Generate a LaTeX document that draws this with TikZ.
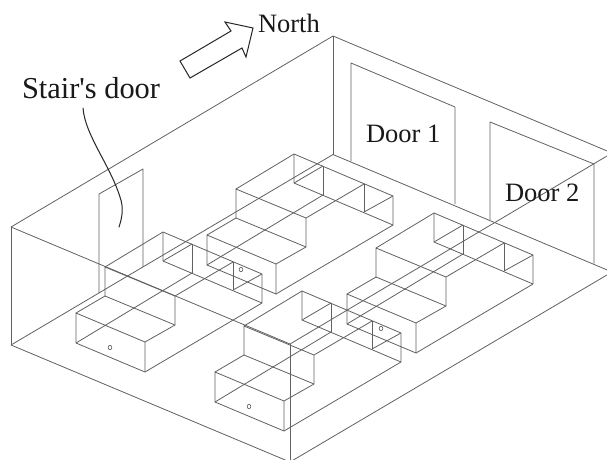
\documentclass[tikz,border=0pt]{standalone}
\usepackage{fontspec}
\setmainfont{Liberation Serif}
\newfontfamily\plainserif{Liberation Serif}
\tikzset{
  wire/.style={draw=black!62,line width=0.8pt,line join=round},
  label/.style={inner sep=0pt,outer sep=0pt,anchor=base west,text=black!90,font=\plainserif\fontsize{26.5}{30}\selectfont},
  arrowline/.style={draw=black!85,line width=1pt,line join=miter,fill=white},
  leader/.style={draw=black!85,line width=1pt,line cap=round},
  hole/.style={draw=black!62,line width=0.6pt},
}
\newcommand{\bedblock}[2]{%
\begin{scope}[shift={(#1,#2)}]
  % front low box
  \draw[wire] (76,313) -- (145,342) -- (145,372) -- (76,343) -- cycle;
  % step
  \draw[wire] (76,313) -- (105,296) -- (175,325) -- (145,342);
  \draw[wire] (105,296) -- (105,267) -- (175,296) -- (175,325);
  % long top and back
  \draw[wire] (105,267) -- (163,232) -- (262,274) -- (262,303) -- (145,372);
  \draw[wire] (163,232) -- (163,261) -- (262,303);
  % inner verticals
  \draw[wire] (192,244) -- (192,273);
  \draw[wire] (233,262) -- (233,290);
  % long lines through
  \draw[wire] (76,343) -- (192,273);
  \draw[wire] (175,296) -- (233,262);
  \draw[wire] (163,261) -- (192,244);
  \draw[wire] (233,290) -- (262,274);
  % hole
  \draw[hole] (110,347.5) ellipse (1.8 and 2.2);
\end{scope}}
\begin{document}
\begin{tikzpicture}[x=1pt,y=-1pt]
\path[use as bounding box,fill=white] (0,0) rectangle (607,459);
\clip (0,0) rectangle (607,459);
% room
\draw[wire] (11,227) -- (333,36) -- (612,153) -- (290,344) -- cycle;
\draw[wire] (11,345) -- (333,154.5) -- (612,272) -- (290,462) -- cycle;
\draw[wire] (11,227) -- (11,345);
\draw[wire] (333,36) -- (333,154.5);
\draw[wire] (290,344) -- (290,462);
% stair's door
\draw[wire] (99,293) -- (99,194) -- (143,169) -- (143,267);
% door 1
\draw[wire] (351,161) -- (351,63) -- (455,107) -- (455,204);
% door 2
\draw[wire] (490,220) -- (490,122) -- (594,164) -- (594,263.5);
% blocks
\bedblock{0}{0}
\bedblock{131}{-78}
\bedblock{139}{59}
\bedblock{271}{-19}
% north arrow
\draw[arrowline] (180,61) -- (231,31) -- (225,22) -- (253,28) -- (246,57) -- (242,48) -- (190,78) -- cycle;
% labels
\node[label] (north) at (258,32) {North};
\node[label,font=\plainserif\fontsize{30.4}{33}\selectfont] (stair) at (22,98) {Stair's door};
\node[label] (door1) at (366,142) {Door 1};
\node[label] (door2) at (505,201) {Door 2};
% leader
\coordinate (leadA) at (83,108);
\coordinate (leadB) at (119,227);
\draw[leader] (leadA) .. controls (85,135) and (110,165) .. (120,197) .. controls (124,208) and (122,218) .. (leadB);
\end{tikzpicture}
\end{document}
